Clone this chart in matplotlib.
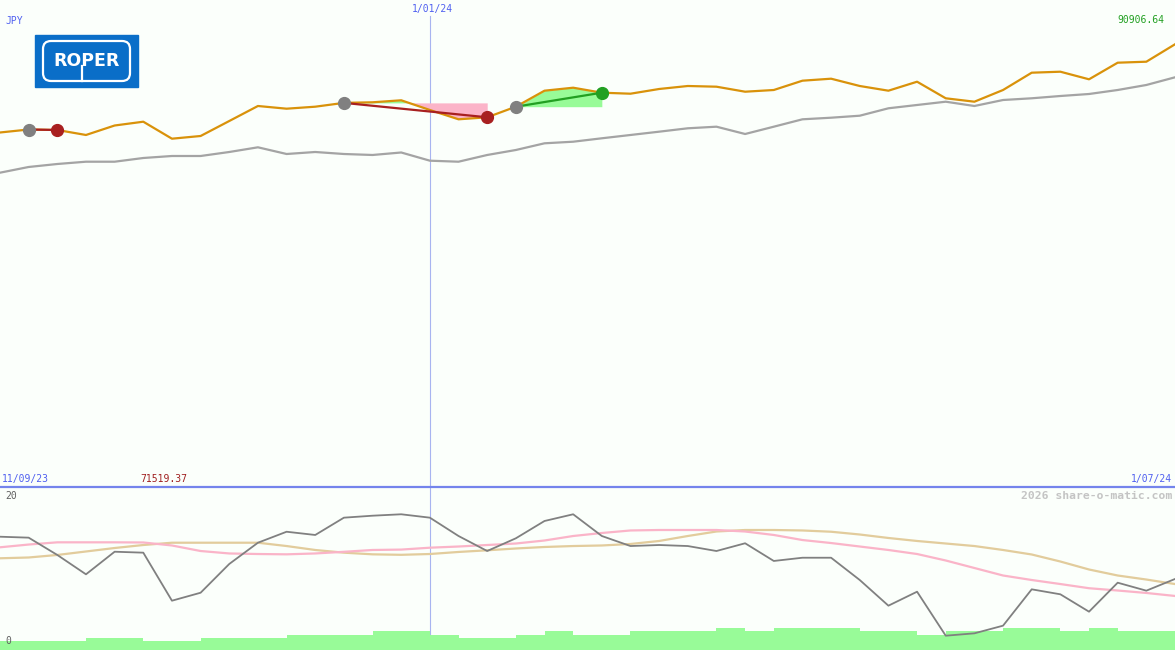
import matplotlib
matplotlib.use("Agg")
import matplotlib.pyplot as plt
from matplotlib.patches import Rectangle, FancyBboxPatch
from matplotlib.lines import Line2D
from matplotlib.transforms import IdentityTransform

W, H = 1175, 650

currency = "JPY"
start_label = "11/09/23"
end_label = "1/07/24"
year_label = "1/01/24"
year_idx = 15
low_label = "71519.37"
high_label = "90906.64"
credit = "2026 share-o-matic.com"

# weekly closes (orange) and comparison index (grey)
price = [86982, 87115, 87093, 86871, 87293, 87462, 86706, 86826, 87493, 88161,
         88041, 88130, 88300, 88326, 88415, 87983, 87569, 87658, 88130, 88842,
         88975, 88753, 88708, 88918, 89051, 89020, 88797, 88873, 89287, 89376,
         89051, 88842, 89242, 88504, 88352, 88873, 89643, 89687, 89349, 90088,
         90132, 90907]
index_line = [85193, 85447, 85580, 85682, 85682, 85847, 85936, 85936, 86114, 86323,
              86025, 86114, 86025, 85981, 86092, 85727, 85682, 85981, 86203, 86501,
              86572, 86724, 86871, 87018, 87169, 87240, 86915, 87240, 87569, 87640,
              87729, 88059, 88206, 88352, 88161, 88428, 88504, 88606, 88695, 88873,
              89096, 89438]

# lower panel
osc = [14.34, 14.22, 12.03, 9.58, 12.44, 12.32, 6.24, 7.25, 10.89, 13.58,
       14.97, 14.56, 16.75, 17.00, 17.18, 16.75, 14.43, 12.53, 14.14, 16.33,
       17.18, 14.43, 13.16, 13.29, 13.16, 12.53, 13.51, 11.27, 11.68, 11.68,
       8.86, 5.61, 7.38, 1.81, 2.11, 3.08, 7.68, 7.05, 4.85, 8.52,
       7.51, 8.99]
osc_fast = [13.00, 13.35, 13.63, 13.63, 13.63, 13.61, 13.23, 12.53, 12.22, 12.15,
            12.11, 12.22, 12.43, 12.66, 12.71, 12.95, 13.10, 13.29, 13.48, 13.86,
            14.43, 14.81, 15.13, 15.19, 15.19, 15.19, 15.00, 14.56, 13.92, 13.54,
            13.10, 12.66, 12.15, 11.33, 10.38, 9.43, 8.86, 8.35, 7.82, 7.53,
            7.22, 6.84]
osc_slow = [11.61, 11.71, 12.03, 12.47, 12.91, 13.29, 13.58, 13.58, 13.58, 13.58,
            13.16, 12.66, 12.32, 12.11, 12.05, 12.15, 12.41, 12.62, 12.85, 13.04,
            13.16, 13.23, 13.42, 13.80, 14.43, 15.00, 15.19, 15.19, 15.13, 14.97,
            14.62, 14.18, 13.80, 13.48, 13.16, 12.66, 12.09, 11.20, 10.19, 9.43,
            8.92, 8.35]
volume = [1.14, 1.14, 1.14, 1.56, 1.56, 1.14, 1.14, 1.56, 1.56, 1.56,
          1.90, 1.90, 1.90, 2.41, 2.41, 1.90, 1.56, 1.56, 1.90, 2.41,
          1.90, 1.90, 2.41, 2.41, 2.41, 2.78, 2.41, 2.78, 2.78, 2.78,
          2.41, 2.41, 1.90, 2.41, 2.41, 2.78, 2.78, 2.41, 2.78, 2.41,
          2.41]

buy_idx = [1, 12, 18]
sell_idx = [2, 17, 21]

bg = "#fbfffb"
blue_txt = "#5060f0"
mono = "DejaVu Sans Mono"

x = list(range(len(price)))


def fx(px):
    return px / W


def fy(py):
    return 1 - py / H


fig = plt.figure(figsize=(W / 100, H / 100), dpi=100, facecolor=bg)

top = fig.add_axes([0, fy(487), 1, 487 / H])
bot = fig.add_axes([0, 0, 1, fy(487)])
for ax in (top, bot):
    ax.set_facecolor(bg)
    ax.set_xlim(0, len(price) - 1)
    ax.axis("off")

top.set_ylim(71206, 92878)
bot.set_ylim(0, 163 / 7.9)

# upper panel
top.axvline(year_idx, ymax=1 - 16 / 487, color="#a8b4f0", lw=0.8, zorder=1)
top.plot(x, index_line, color="#a4a4a4", lw=1.6, zorder=2)

for b, s in zip(buy_idx, sell_idx):
    seg = x[b:s + 1]
    vals = price[b:s + 1]
    entry = price[b]
    top.fill_between(seg, entry, vals, where=[v >= entry for v in vals],
                     interpolate=True, color="#98fb98", lw=0, zorder=2)
    top.fill_between(seg, entry, vals, where=[v < entry for v in vals],
                     interpolate=True, color="#fbb4c8", lw=0, zorder=2)

top.plot(x, price, color="#d9920a", lw=1.6, zorder=3)

for b, s in zip(buy_idx, sell_idx):
    win = price[s] > price[b]
    c = "#22a022" if win else "#a82020"
    top.plot([b, s], [price[b], price[s]], color=c, lw=1.6, zorder=4)
    top.plot(b, price[b], "o", ms=8.5, color="#808080", zorder=5)
    top.plot(s, price[s], "o", ms=8.5, color=c, zorder=5)

# lower panel
bot.axvline(year_idx, color="#a8b4f0", lw=0.8, zorder=1)
bot.bar(x[:len(volume)], volume, width=1.0, align="edge", color="#98fb98", lw=0, zorder=2)
bot.plot(x, osc_slow, color="#e2cc9c", lw=1.6, zorder=3)
bot.plot(x, osc_fast, color="#fab4c8", lw=1.6, zorder=3)
bot.plot(x, osc, color="#808080", lw=1.3, zorder=4)

fig.add_artist(Line2D([0, 1], [fy(486.7), fy(486.7)], color="#7484ec", lw=1.6))

# logo, drawn in pixels (origin bottom left)
px = IdentityTransform()
fig.add_artist(Rectangle((35, H - 87), 103, 52, color="#0a6ec8", transform=px))
fig.add_artist(FancyBboxPatch((43, H - 81), 87, 40,
                              boxstyle="round,pad=0,rounding_size=8",
                              fill=False, ec="white", lw=1.6, transform=px))
fig.add_artist(Line2D([82, 82], [H - 66, H - 81], color="white", lw=1.6, transform=px))
fig.text(fx(86.5), fy(61), "ROPER", color="white", fontsize=12.5, fontweight="bold",
         family="DejaVu Sans", ha="center", va="center")

# labels
fig.text(fx(5), fy(21), currency, color=blue_txt, fontsize=7, family=mono, va="center")
fig.text(fx(year_idx * W / (len(price) - 1) + 3), fy(9), year_label, color=blue_txt,
         fontsize=7, family=mono, ha="center", va="center")
fig.text(fx(1164), fy(20), high_label, color="#22a022", fontsize=7, family=mono,
         ha="right", va="center")
fig.text(fx(2), fy(479), start_label, color=blue_txt, fontsize=7, family=mono, va="center")
fig.text(fx(140), fy(479), low_label, color="#a02020", fontsize=7, family=mono, va="center")
fig.text(fx(1172), fy(479), end_label, color=blue_txt, fontsize=7, family=mono,
         ha="right", va="center")
fig.text(fx(1172), fy(496), credit, color="#c4c4c4", fontsize=8.2, family=mono,
         fontweight="bold", ha="right", va="center")
fig.text(fx(5), fy(496), "20", color="#606060", fontsize=7, family=mono, va="center")
fig.text(fx(5), fy(641), "0", color="#606060", fontsize=7, family=mono, va="center")

fig.savefig("out.png", dpi=100, facecolor=bg)
